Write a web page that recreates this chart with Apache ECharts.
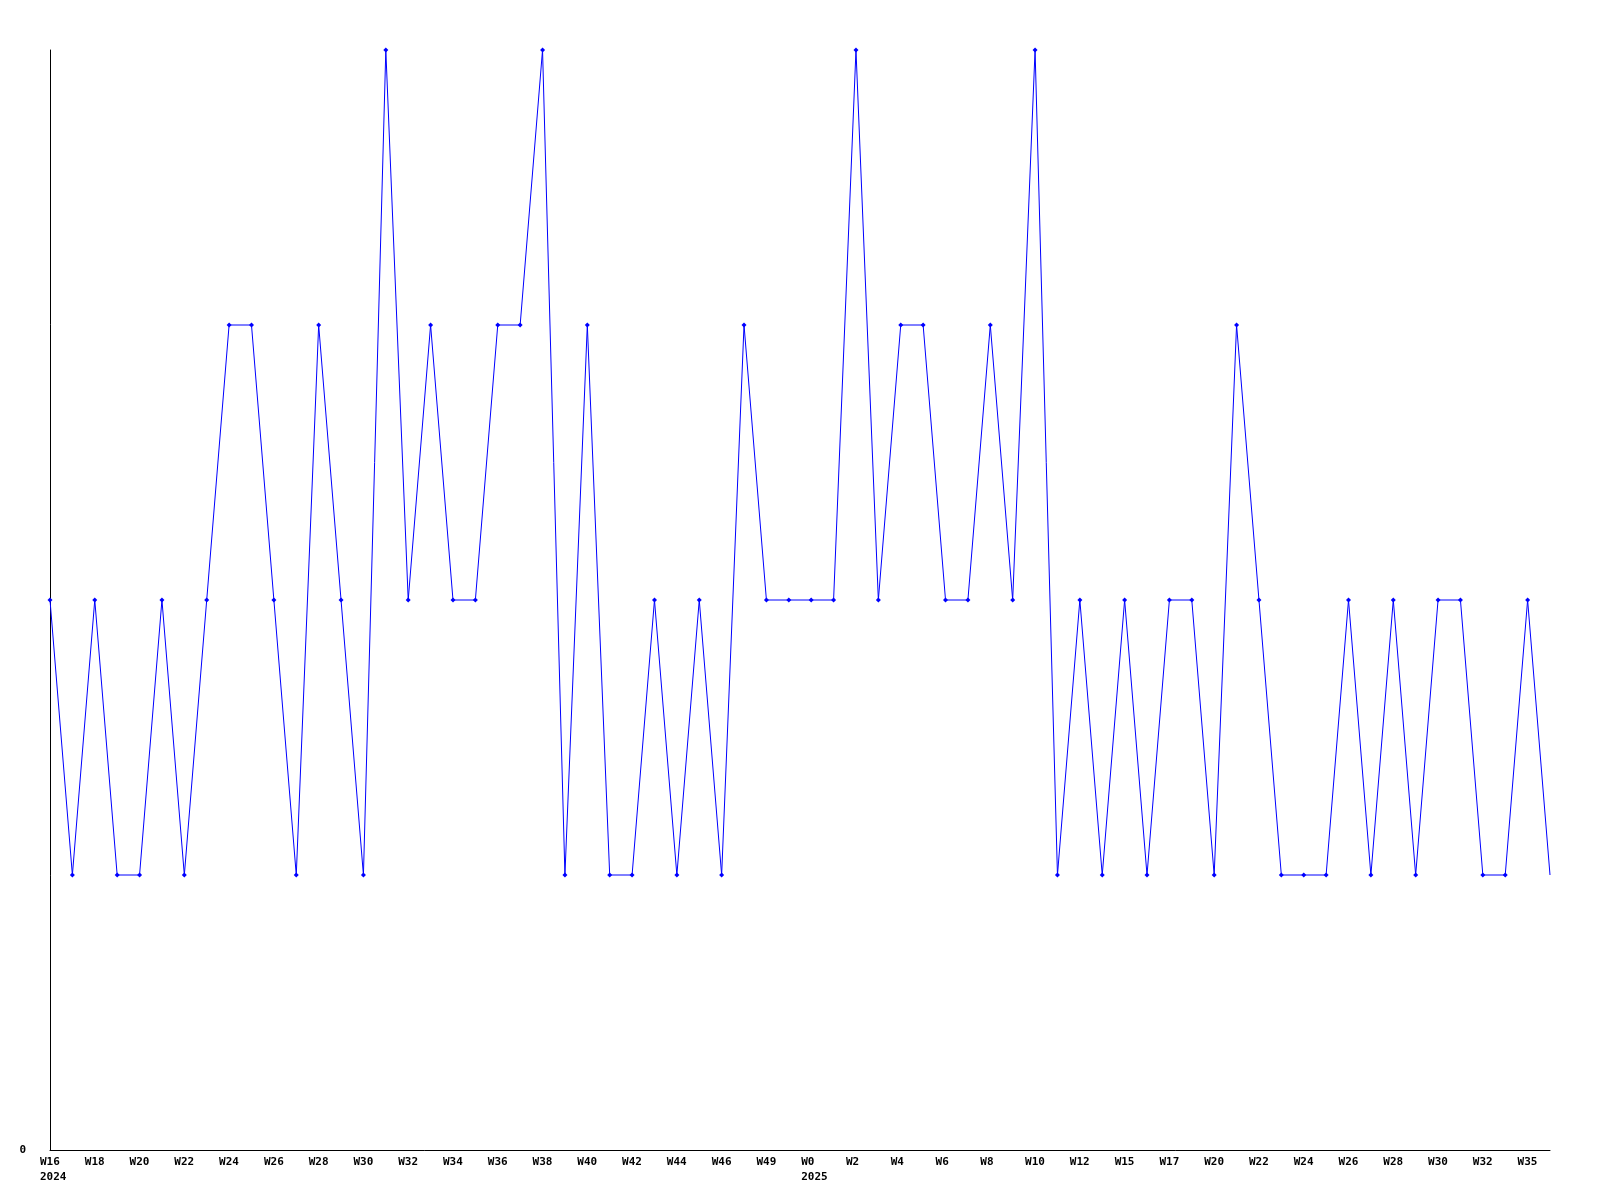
<!DOCTYPE html>
<html>
<head>
<meta charset="utf-8">
<script src="https://cdn.jsdelivr.net/npm/echarts@6/dist/echarts.min.js"></script>
<style>html,body{margin:0;padding:0;background:#fff;}#c{width:1600px;height:1200px;}</style>
</head>
<body>
<div id="c"></div>
<script>
var weeks = ['W16','W17','W18','W19','W20','W21','W22','W23','W24','W25','W26','W27','W28','W29','W30','W31','W32','W33','W34','W35','W36','W37','W38','W39','W40','W41','W42','W43','W44','W45','W46','W48','W49','W51','W0','W1','W2','W3','W4','W5','W6','W7','W8','W9','W10','W11','W12','W14','W15','W16','W17','W19','W20','W21','W22','W23','W24','W25','W26','W27','W28','W29','W30','W31','W32','W34','W35','W36'];
var yearIndex = [0, 34];
var yearText = ['2024', '2025'];
var values = [2,1,2,1,1,2,1,2,3,3,2,1,3,2,1,4,2,3,2,2,3,3,4,1,3,1,1,2,1,2,1,3,2,2,2,2,4,2,3,3,2,2,3,2,4,1,2,1,2,1,2,2,1,3,2,1,1,1,2,1,2,1,2,2,1,1,2,1];
var yMin = 0, yMax = 4;

var cats = weeks.map(function(w, i){ return String(i); });
var seriesData = values.map(function(v, i){
  if (i === values.length - 1) return {value: v, symbol: 'none'};
  return v;
});

var chart = echarts.init(document.getElementById('c'));
chart.setOption({
  animation: false,
  backgroundColor: '#ffffff',
  grid: {left: 50, top: 50, right: 50, bottom: 50},
  xAxis: {
    type: 'category',
    data: cats,
    boundaryGap: false,
    axisLine: {lineStyle: {color: '#000', width: 1}},
    axisTick: {show: false},
    splitLine: {show: false},
    axisLabel: {
      interval: 1,
      margin: 5,
      align: 'left',
      padding: [0, 0, 0, -10],
      fontFamily: 'DejaVu Sans Mono',
      fontWeight: 'bold',
      fontSize: 11,
      lineHeight: 15,
      color: '#000',
      formatter: function(val){
        var i = +val;
        var yi = yearIndex.indexOf(i);
        return yi >= 0 ? weeks[i] + '\n' + yearText[yi] : weeks[i];
      }
    }
  },
  yAxis: {
    type: 'value',
    min: yMin,
    max: yMax,
    interval: 4,
    axisLine: {show: true, lineStyle: {color: '#000', width: 1}},
    axisTick: {show: false},
    splitLine: {show: false},
    axisLabel: {
      margin: 24,
      fontFamily: 'DejaVu Sans Mono',
      fontWeight: 'bold',
      fontSize: 11,
      color: '#000',
      showMaxLabel: false,
      formatter: function(v){ return v === 0 ? '0' : ''; }
    }
  },
  series: [{
    type: 'line',
    data: seriesData,
    symbol: 'diamond',
    symbolSize: 5,
    showAllSymbol: true,
    itemStyle: {color: '#0000ff'},
    lineStyle: {color: '#0000ff', width: 1},
    clip: false
  }]
});
</script>
</body>
</html>
